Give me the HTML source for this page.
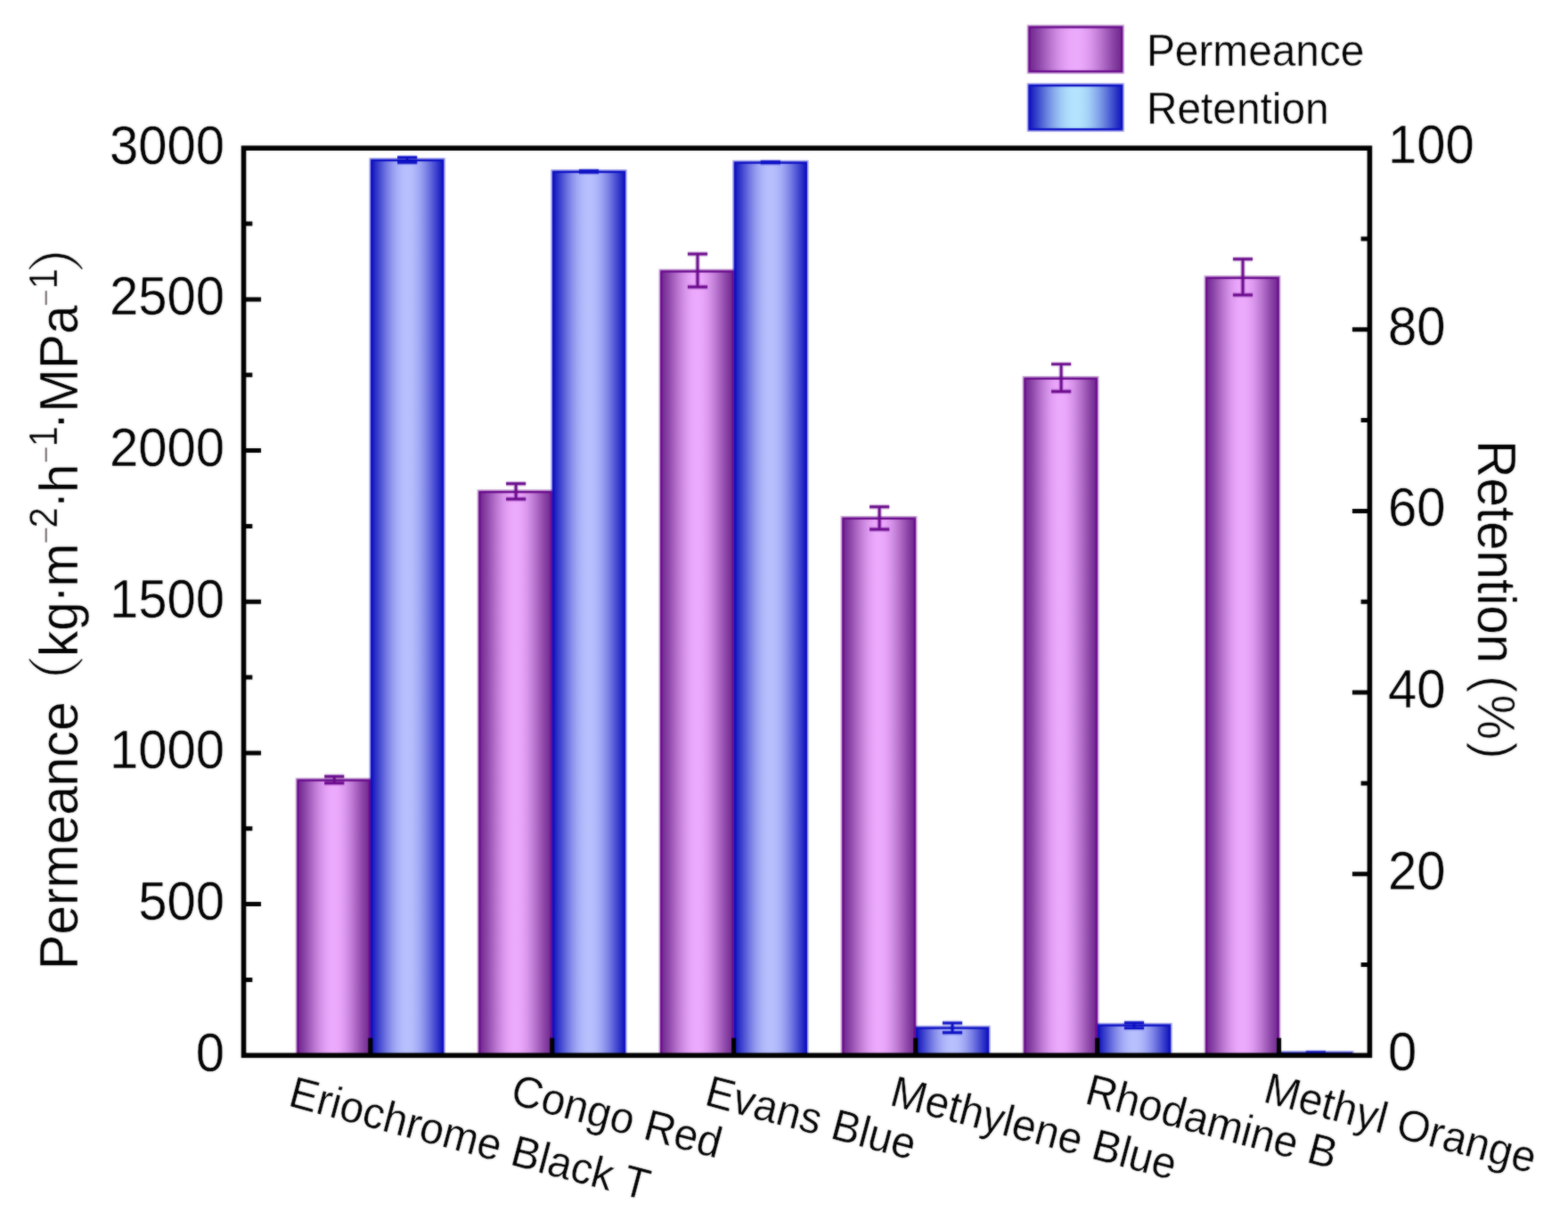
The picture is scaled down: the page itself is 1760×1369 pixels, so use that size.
<!DOCTYPE html>
<html lang="en"><head><meta charset="utf-8"><title>Permeance and Retention</title>
<style>
html,body{margin:0;padding:0;background:#fff;}
body{width:1760px;height:1369px;}
svg{display:block;}
text{font-family:"Liberation Sans","Noto Sans CJK SC",sans-serif;fill:#000;stroke:#fff;stroke-width:0.35px;}
.tk{font-size:58px;}
.ttl{font-size:58px;}
.cat{font-size:47.8px;}
.lg{font-size:47.8px;}
</style></head><body>
<svg width="1760" height="1369" viewBox="0 0 1760 1369" role="img" aria-label="Permeance and retention of dyes">
<defs>
<filter id="soft" x="0" y="0" width="1760" height="1369" filterUnits="userSpaceOnUse" color-interpolation-filters="sRGB"><feGaussianBlur in="SourceGraphic" stdDeviation="0.8" result="b"/><feComposite in="SourceGraphic" in2="b" operator="arithmetic" k1="0" k2="0.5" k3="0.5" k4="0"/></filter>
<linearGradient id="gp" x1="0" y1="0" x2="1" y2="0"><stop offset="0.000" stop-color="#722a90"/><stop offset="0.042" stop-color="#7b3398"/><stop offset="0.083" stop-color="#8740a3"/><stop offset="0.125" stop-color="#954faf"/><stop offset="0.167" stop-color="#a45ebc"/><stop offset="0.208" stop-color="#b26dc9"/><stop offset="0.250" stop-color="#c07cd5"/><stop offset="0.292" stop-color="#cc89e1"/><stop offset="0.333" stop-color="#d794ea"/><stop offset="0.375" stop-color="#e09df2"/><stop offset="0.417" stop-color="#e7a4f8"/><stop offset="0.458" stop-color="#eba9fc"/><stop offset="0.500" stop-color="#ecaafd"/><stop offset="0.542" stop-color="#eba9fc"/><stop offset="0.583" stop-color="#e7a4f8"/><stop offset="0.625" stop-color="#e09df2"/><stop offset="0.667" stop-color="#d794ea"/><stop offset="0.708" stop-color="#cc89e1"/><stop offset="0.750" stop-color="#c07cd5"/><stop offset="0.792" stop-color="#b26dc9"/><stop offset="0.833" stop-color="#a45ebc"/><stop offset="0.875" stop-color="#954faf"/><stop offset="0.917" stop-color="#8740a3"/><stop offset="0.958" stop-color="#7b3398"/><stop offset="1.000" stop-color="#722a90"/></linearGradient>
<linearGradient id="gb" x1="0" y1="0" x2="1" y2="0"><stop offset="0.000" stop-color="#1418be"/><stop offset="0.042" stop-color="#2529c4"/><stop offset="0.083" stop-color="#383dcc"/><stop offset="0.125" stop-color="#4c51d3"/><stop offset="0.167" stop-color="#5f65db"/><stop offset="0.208" stop-color="#7278e2"/><stop offset="0.250" stop-color="#838ae9"/><stop offset="0.292" stop-color="#939aef"/><stop offset="0.333" stop-color="#a0a7f4"/><stop offset="0.375" stop-color="#aab2f8"/><stop offset="0.417" stop-color="#b2bafb"/><stop offset="0.458" stop-color="#b6befc"/><stop offset="0.500" stop-color="#b8c0fd"/><stop offset="0.542" stop-color="#b6befc"/><stop offset="0.583" stop-color="#b2bafb"/><stop offset="0.625" stop-color="#aab2f8"/><stop offset="0.667" stop-color="#a0a7f4"/><stop offset="0.708" stop-color="#939aef"/><stop offset="0.750" stop-color="#838ae9"/><stop offset="0.792" stop-color="#7278e2"/><stop offset="0.833" stop-color="#5f65db"/><stop offset="0.875" stop-color="#4c51d3"/><stop offset="0.917" stop-color="#383dcc"/><stop offset="0.958" stop-color="#2529c4"/><stop offset="1.000" stop-color="#1418be"/></linearGradient>
<linearGradient id="gl" x1="0" y1="0" x2="1" y2="0"><stop offset="0.000" stop-color="#1418be"/><stop offset="0.042" stop-color="#242dc4"/><stop offset="0.083" stop-color="#3745cc"/><stop offset="0.125" stop-color="#4b5ed3"/><stop offset="0.167" stop-color="#5e76db"/><stop offset="0.208" stop-color="#708de2"/><stop offset="0.250" stop-color="#81a2e9"/><stop offset="0.292" stop-color="#8fb5ef"/><stop offset="0.333" stop-color="#9cc6f4"/><stop offset="0.375" stop-color="#a6d3f8"/><stop offset="0.417" stop-color="#aedcfb"/><stop offset="0.458" stop-color="#b2e2fc"/><stop offset="0.500" stop-color="#b4e4fd"/><stop offset="0.542" stop-color="#b2e2fc"/><stop offset="0.583" stop-color="#aedcfb"/><stop offset="0.625" stop-color="#a6d3f8"/><stop offset="0.667" stop-color="#9cc6f4"/><stop offset="0.708" stop-color="#8fb5ef"/><stop offset="0.750" stop-color="#81a2e9"/><stop offset="0.792" stop-color="#708de2"/><stop offset="0.833" stop-color="#5e76db"/><stop offset="0.875" stop-color="#4b5ed3"/><stop offset="0.917" stop-color="#3745cc"/><stop offset="0.958" stop-color="#242dc4"/><stop offset="1.000" stop-color="#1418be"/></linearGradient>
</defs>
<rect x="0" y="0" width="1760" height="1369" fill="#ffffff"/>
<g filter="url(#soft)">
<rect x="0" y="0" width="1760" height="1369" fill="#ffffff"/>
<g fill="none" stroke-width="3.2" stroke-opacity="0.38">
<rect x="333.3" y="874.4" width="82.7" height="309.9" stroke="#6a0a8c"/>
<rect x="416.0" y="178.7" width="82.2" height="1005.6" stroke="#0c10c4"/>
<rect x="537.2" y="550.9" width="82.7" height="633.4" stroke="#6a0a8c"/>
<rect x="619.9" y="191.7" width="82.2" height="992.6" stroke="#0c10c4"/>
<rect x="741.1" y="303.4" width="82.7" height="880.9" stroke="#6a0a8c"/>
<rect x="823.8" y="181.4" width="82.2" height="1002.9" stroke="#0c10c4"/>
<rect x="945.2" y="580.6" width="82.7" height="603.7" stroke="#6a0a8c"/>
<rect x="1027.9" y="1152.4" width="82.2" height="31.9" stroke="#0c10c4"/>
<rect x="1149.2" y="423.6" width="82.7" height="760.7" stroke="#6a0a8c"/>
<rect x="1231.9" y="1149.4" width="82.2" height="34.9" stroke="#0c10c4"/>
<rect x="1353.1" y="310.7" width="82.7" height="873.6" stroke="#6a0a8c"/>
<rect x="1435.8" y="1180.7" width="82.2" height="3.6" stroke="#0c10c4"/>
</g>
<g>
<rect x="417.2" y="179.9" width="79.8" height="1004.4" fill="url(#gb)" stroke="#0c10c4" stroke-width="2.4"/>
<rect x="334.5" y="875.6" width="80.3" height="308.7" fill="url(#gp)" stroke="#6a0a8c" stroke-width="2.4"/>
<rect x="621.1" y="192.9" width="79.8" height="991.4" fill="url(#gb)" stroke="#0c10c4" stroke-width="2.4"/>
<rect x="538.4" y="552.1" width="80.3" height="632.2" fill="url(#gp)" stroke="#6a0a8c" stroke-width="2.4"/>
<rect x="825.0" y="182.6" width="79.8" height="1001.7" fill="url(#gb)" stroke="#0c10c4" stroke-width="2.4"/>
<rect x="742.3" y="304.6" width="80.3" height="879.7" fill="url(#gp)" stroke="#6a0a8c" stroke-width="2.4"/>
<rect x="1029.1" y="1153.6" width="79.8" height="30.7" fill="url(#gb)" stroke="#0c10c4" stroke-width="2.4"/>
<rect x="946.4" y="581.8" width="80.3" height="602.5" fill="url(#gp)" stroke="#6a0a8c" stroke-width="2.4"/>
<rect x="1233.1" y="1150.6" width="79.8" height="33.7" fill="url(#gb)" stroke="#0c10c4" stroke-width="2.4"/>
<rect x="1150.4" y="424.8" width="80.3" height="759.5" fill="url(#gp)" stroke="#6a0a8c" stroke-width="2.4"/>
<rect x="1437.0" y="1181.9" width="79.8" height="2.4" fill="url(#gb)" stroke="#0c10c4" stroke-width="2.4"/>
<rect x="1354.3" y="311.9" width="80.3" height="872.4" fill="url(#gp)" stroke="#6a0a8c" stroke-width="2.4"/>
</g>
<g fill="none">
<path d="M364.1 871.2H386.3M375.2 871.2V878.8M364.1 878.8H386.3" stroke="#6a0a8c" stroke-width="5.4" stroke-opacity="0.25"/>
<path d="M364.1 871.2H386.3M375.2 871.2V878.8M364.1 878.8H386.3" stroke="#6a0a8c" stroke-width="2.9"/>
<path d="M446.0 176.6H468.2M457.1 176.6V182.2M446.0 182.2H468.2" stroke="#0c10c4" stroke-width="5.4" stroke-opacity="0.25"/>
<path d="M446.0 176.6H468.2M457.1 176.6V182.2M446.0 182.2H468.2" stroke="#0c10c4" stroke-width="2.9"/>
<path d="M568.0 542.8H590.2M579.1 542.8V560.0M568.0 560.0H590.2" stroke="#6a0a8c" stroke-width="5.4" stroke-opacity="0.25"/>
<path d="M568.0 542.8H590.2M579.1 542.8V560.0M568.0 560.0H590.2" stroke="#6a0a8c" stroke-width="2.9"/>
<path d="M649.9 191.8H672.1M661.0 191.8V193.2M649.9 193.2H672.1" stroke="#0c10c4" stroke-width="5.4" stroke-opacity="0.25"/>
<path d="M649.9 191.8H672.1M661.0 191.8V193.2M649.9 193.2H672.1" stroke="#0c10c4" stroke-width="2.9"/>
<path d="M771.9 285.0H794.1M783.0 285.0V322.0M771.9 322.0H794.1" stroke="#6a0a8c" stroke-width="5.4" stroke-opacity="0.25"/>
<path d="M771.9 285.0H794.1M783.0 285.0V322.0M771.9 322.0H794.1" stroke="#6a0a8c" stroke-width="2.9"/>
<path d="M853.8 181.7H876.0M864.9 181.7V182.7M853.8 182.7H876.0" stroke="#0c10c4" stroke-width="5.4" stroke-opacity="0.25"/>
<path d="M853.8 181.7H876.0M864.9 181.7V182.7M853.8 182.7H876.0" stroke="#0c10c4" stroke-width="2.9"/>
<path d="M976.0 568.7H998.2M987.1 568.7V594.0M976.0 594.0H998.2" stroke="#6a0a8c" stroke-width="5.4" stroke-opacity="0.25"/>
<path d="M976.0 568.7H998.2M987.1 568.7V594.0M976.0 594.0H998.2" stroke="#6a0a8c" stroke-width="2.9"/>
<path d="M1057.9 1148.0H1080.1M1069.0 1148.0V1158.8M1057.9 1158.8H1080.1" stroke="#0c10c4" stroke-width="5.4" stroke-opacity="0.25"/>
<path d="M1057.9 1148.0H1080.1M1069.0 1148.0V1158.8M1057.9 1158.8H1080.1" stroke="#0c10c4" stroke-width="2.9"/>
<path d="M1180.0 408.6H1202.2M1191.1 408.6V439.2M1180.0 439.2H1202.2" stroke="#6a0a8c" stroke-width="5.4" stroke-opacity="0.25"/>
<path d="M1180.0 408.6H1202.2M1191.1 408.6V439.2M1180.0 439.2H1202.2" stroke="#6a0a8c" stroke-width="2.9"/>
<path d="M1261.9 1147.6H1284.1M1273.0 1147.6V1153.6M1261.9 1153.6H1284.1" stroke="#0c10c4" stroke-width="5.4" stroke-opacity="0.25"/>
<path d="M1261.9 1147.6H1284.1M1273.0 1147.6V1153.6M1261.9 1153.6H1284.1" stroke="#0c10c4" stroke-width="2.9"/>
<path d="M1383.9 290.8H1406.1M1395.0 290.8V331.0M1383.9 331.0H1406.1" stroke="#6a0a8c" stroke-width="5.4" stroke-opacity="0.25"/>
<path d="M1383.9 290.8H1406.1M1395.0 290.8V331.0M1383.9 331.0H1406.1" stroke="#6a0a8c" stroke-width="2.9"/>
<path d="M1465.8 1181.0H1488.0M1476.9 1181.0V1182.0M1465.8 1182.0H1488.0" stroke="#0c10c4" stroke-width="5.4" stroke-opacity="0.25"/>
<path d="M1465.8 1181.0H1488.0M1476.9 1181.0V1182.0M1465.8 1182.0H1488.0" stroke="#0c10c4" stroke-width="2.9"/>
</g>
<rect x="273.5" y="166.2" width="1263.9" height="1018.1" fill="none" stroke="#000" stroke-width="5.6"/>
<path d="M273.5 1099.5h9.8M273.5 1014.6h19.5M273.5 929.8h9.8M273.5 844.9h19.5M273.5 760.1h9.8M273.5 675.2h19.5M273.5 590.4h9.8M273.5 505.6h19.5M273.5 420.7h9.8M273.5 335.9h19.5M273.5 251.0h9.8M1537.4 1082.5h-9.8M1537.4 980.7h-19.5M1537.4 878.9h-9.8M1537.4 777.1h-19.5M1537.4 675.2h-9.8M1537.4 573.4h-19.5M1537.4 471.6h-9.8M1537.4 369.8h-19.5M1537.4 268.0h-9.8M415.8 1184.3v-19.5M619.7 1184.3v-19.5M823.6 1184.3v-19.5M1027.7 1184.3v-19.5M1231.7 1184.3v-19.5M1435.6 1184.3v-19.5" fill="none" stroke="#000" stroke-width="5.0"/>
<text class="tk" text-anchor="end" transform="translate(252.0 1201.8) scale(1 1.040)">0</text>
<text class="tk" text-anchor="end" transform="translate(252.0 1031.8) scale(1 1.040)">500</text>
<text class="tk" text-anchor="end" transform="translate(252.0 861.9) scale(1 1.040)">1000</text>
<text class="tk" text-anchor="end" transform="translate(252.0 692.8) scale(1 1.040)">1500</text>
<text class="tk" text-anchor="end" transform="translate(252.0 522.7) scale(1 1.040)">2000</text>
<text class="tk" text-anchor="end" transform="translate(252.0 353.0) scale(1 1.040)">2500</text>
<text class="tk" text-anchor="end" transform="translate(252.0 183.9) scale(1 1.040)">3000</text>
<text class="tk" text-anchor="start" transform="translate(1558.1 1200.7) scale(1 1.040)">0</text>
<text class="tk" text-anchor="start" transform="translate(1558.1 997.5) scale(1 1.040)">20</text>
<text class="tk" text-anchor="start" transform="translate(1558.1 794.0) scale(1 1.040)">40</text>
<text class="tk" text-anchor="start" transform="translate(1558.1 590.4) scale(1 1.040)">60</text>
<text class="tk" text-anchor="start" transform="translate(1558.1 386.9) scale(1 1.040)">80</text>
<text class="tk" text-anchor="start" transform="translate(1558.1 183.2) scale(1 1.040)">100</text>
<text class="ttl" text-anchor="start" transform="translate(86.9 1087.0) rotate(-90) scale(1 1.040)"><tspan x="-1.0" y="0.0" font-size="58.8">Permeance</tspan><tspan x="289.3" y="0.0" font-size="62.7" style="font-family:'Liberation Sans','Noto Serif CJK SC',serif">（</tspan><tspan x="350.0" y="0.0" font-size="58.5">kg</tspan><tspan x="410.5" y="-1.7" font-size="58.5">·</tspan><tspan x="428.6" y="0.0" font-size="58.5">m</tspan><tspan x="476.4" y="-22.6" font-size="33" fill="#6a6262">−</tspan><tspan x="494.6" y="-21.9" font-size="42">2</tspan><tspan x="516.2" y="-1.7" font-size="58.5">·</tspan><tspan x="534.1" y="0.0" font-size="58.5">h</tspan><tspan x="566.9" y="-22.6" font-size="33" fill="#6a6262">−</tspan><tspan x="585.4" y="-21.9" font-size="42">1</tspan><tspan x="605.0" y="-1.7" font-size="58.5">·</tspan><tspan x="624.3" y="0.0" font-size="58.5">MPa</tspan><tspan x="743.0" y="-22.6" font-size="33" fill="#6a6262">−</tspan><tspan x="762.6" y="-21.9" font-size="42">1</tspan><tspan x="780.4" y="0.0" font-size="62.7" style="font-family:'Liberation Sans','Noto Serif CJK SC',serif">）</tspan></text>
<text class="ttl" text-anchor="start" transform="translate(1658.9 494.0) rotate(90) scale(1 1.040)"><tspan x="0.0" y="0.0" font-size="58.5">Retention </tspan><tspan x="263.9" y="0.0" font-size="58.5" stroke-width="1.0">(</tspan><tspan x="285.6" y="0.0" font-size="57" stroke-width="0.7">%</tspan><tspan x="338.4" y="0.0" font-size="58.5" stroke-width="1.0">)</tspan></text>
<text class="cat" text-anchor="start" transform="translate(322.0 1240.5) rotate(14.85) scale(1 1.040)">Eriochrome Black T</text>
<text class="cat" text-anchor="start" transform="translate(571.3 1238.0) rotate(14.85) scale(1 1.040)">Congo Red</text>
<text class="cat" text-anchor="start" transform="translate(789.2 1239.6) rotate(14.85) scale(1 1.040)">Evans Blue</text>
<text class="cat" text-anchor="start" transform="translate(997.0 1239.7) rotate(14.85) scale(1 1.040)">Methylene Blue</text>
<text class="cat" text-anchor="start" transform="translate(1216.0 1237.7) rotate(14.85) scale(1 1.040)">Rhodamine B</text>
<text class="cat" text-anchor="start" transform="translate(1416.2 1236.2) rotate(14.85) scale(1 1.040)">Methyl Orange</text>
<rect x="1154.3" y="29.3" width="106.0" height="52.0" fill="none" stroke="#6a0a8c" stroke-width="3.2" stroke-opacity="0.38"/>
<rect x="1155.5" y="30.5" width="103.6" height="49.6" fill="url(#gp)" stroke="#6a0a8c" stroke-width="2.4"/>
<rect x="1154.3" y="94.8" width="106.0" height="51.5" fill="none" stroke="#0c10c4" stroke-width="3.2" stroke-opacity="0.38"/>
<rect x="1155.5" y="96.0" width="103.6" height="49.1" fill="url(#gl)" stroke="#0c10c4" stroke-width="2.4"/>
<text class="lg" text-anchor="start" transform="translate(1287.0 74.3) scale(1 1.040)">Permeance</text>
<text class="lg" text-anchor="start" transform="translate(1287.0 139.3) scale(1 1.040)">Retention</text>
</g>
</svg></body></html>
